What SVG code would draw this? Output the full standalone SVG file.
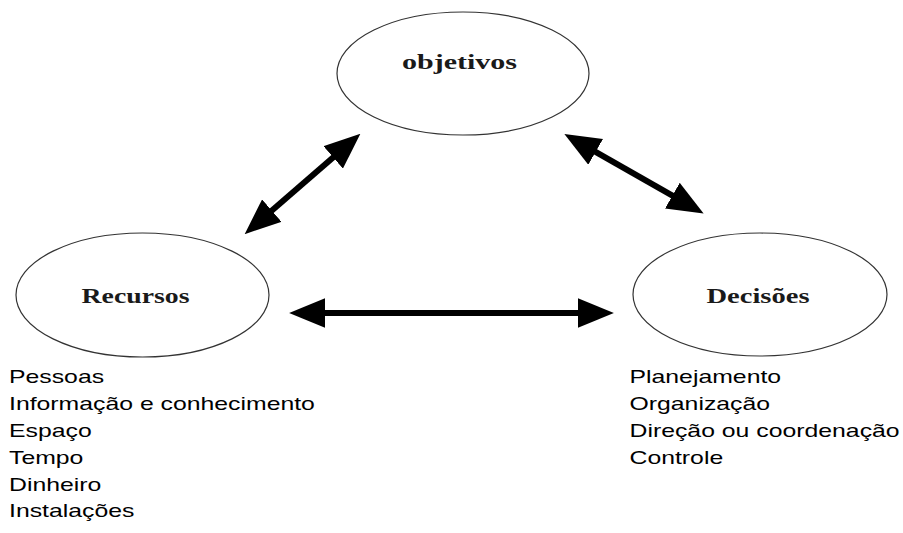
<svg xmlns="http://www.w3.org/2000/svg" width="903" height="533" viewBox="0 0 903 533">
  <style>
    .node { fill: #ffffff; stroke: #333333; stroke-width: 1.2; }
    .label { font-family: "Liberation Serif", "Times New Roman", serif; font-weight: bold; font-size: 20.5px; fill: #1a1a1a; text-anchor: middle; }
    .list { font-family: "Liberation Sans", Arial, sans-serif; font-size: 17.5px; fill: #000000; }
    .conn { stroke: #000000; stroke-width: 6; fill: none; marker-start: url(#head); marker-end: url(#head); }
  </style>
  <defs>
    <marker id="head" markerUnits="userSpaceOnUse" markerWidth="36" markerHeight="30" refX="2" refY="14" orient="auto-start-reverse" viewBox="0 0 34 28">
      <path d="M0,0 L34,14 L0,28 z" fill="#000000"/>
    </marker>
  </defs>
  <rect width="903" height="533" fill="#ffffff"/>

  <g id="node-objetivos">
    <ellipse class="node" cx="463" cy="73.5" rx="126" ry="61.5"/>
    <text class="label" x="459.5" y="68.5" textLength="115" lengthAdjust="spacingAndGlyphs">objetivos</text>
  </g>

  <g id="node-recursos">
    <ellipse class="node" cx="142.5" cy="295" rx="126.5" ry="62"/>
    <text class="label" x="135.5" y="303" textLength="108" lengthAdjust="spacingAndGlyphs">Recursos</text>
    <g class="list" transform="translate(9,0) scale(1.417,1)">
      <text x="0" y="383.5">Pessoas</text>
      <text x="0" y="410.3">Informação e conhecimento</text>
      <text x="0" y="437.1">Espaço</text>
      <text x="0" y="463.9">Tempo</text>
      <text x="0" y="490.7">Dinheiro</text>
      <text x="0" y="517.5">Instalações</text>
    </g>
  </g>

  <g id="node-decisoes">
    <ellipse class="node" cx="760" cy="294.5" rx="127" ry="61.5"/>
    <text class="label" x="758" y="303" textLength="103" lengthAdjust="spacingAndGlyphs">Decisões</text>
    <g class="list" transform="translate(629.5,0) scale(1.417,1)">
      <text x="0" y="383.5">Planejamento</text>
      <text x="0" y="410.3">Organização</text>
      <text x="0" y="437.1">Direção ou coordenação</text>
      <text x="0" y="463.9">Controle</text>
    </g>
  </g>

  <g id="connectors">
    <line class="conn" x1="270.2" y1="212" x2="334.8" y2="156"/>
    <line class="conn" x1="593.8" y1="150.8" x2="674.2" y2="196.7"/>
    <line class="conn" x1="323" y1="313" x2="580" y2="313"/>
  </g>
</svg>
